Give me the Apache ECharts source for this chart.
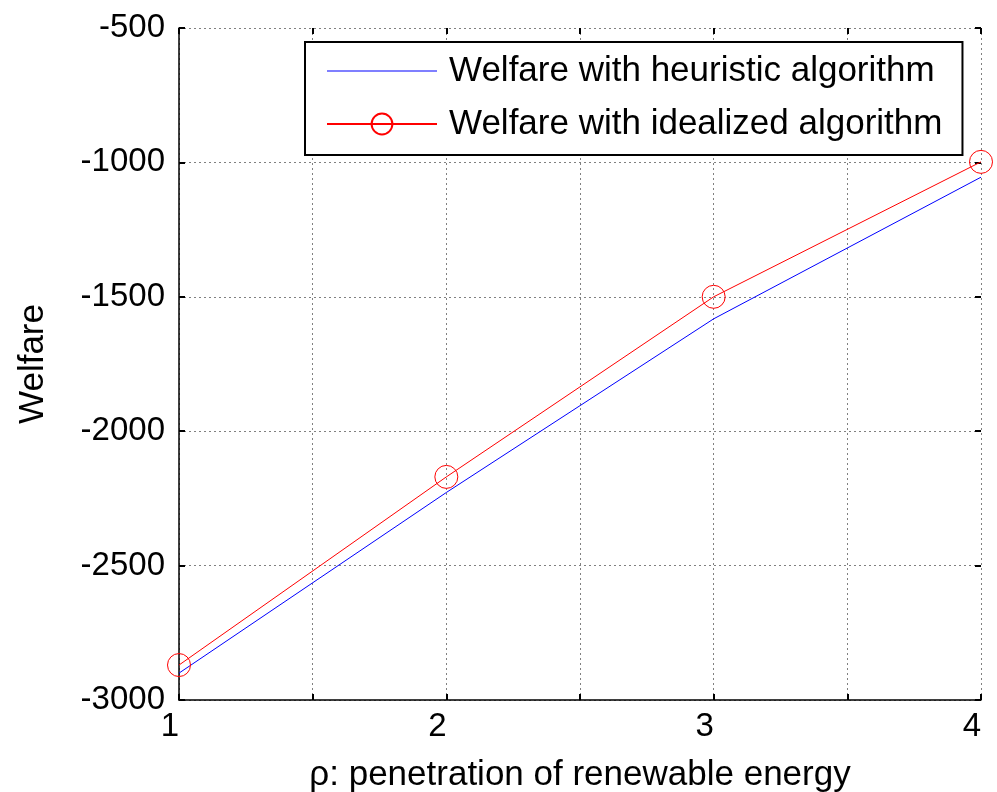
<!DOCTYPE html>
<html><head><meta charset="utf-8">
<script src="https://cdn.jsdelivr.net/npm/echarts@6/dist/echarts.min.js"></script>
<style>html,body{margin:0;padding:0;background:#fff}#c{width:997px;height:792px}</style>
</head><body><div id="c"></div>
<script>
const rho = [1, 2, 3, 4];
const heuristic = [-2900, -2228, -1582, -1055];
const idealized = [-2870, -2170, -1500, -998];
const seriesNames = ['Welfare with heuristic algorithm', 'Welfare with idealized algorithm'];
const xName = 'ρ: penetration of renewable energy';
const yName = 'Welfare';

const F = '"Liberation Sans", Arial, Helvetica, sans-serif';
const chart = echarts.init(document.getElementById('c'), null, {renderer: 'canvas'});
const gridLine = {show: true, lineStyle: {color: '#808080', type: [2, 3], width: 1}};
chart.setOption({
  animation: false,
  backgroundColor: '#fff',
  grid: {left: 179, right: 16, top: 28, bottom: 92, containLabel: false, outerBoundsMode: 'none'},
  xAxis: [{
    type: 'value', min: 1, max: 4, interval: 0.5,
    name: xName, nameLocation: 'middle', nameGap: 58,
    nameTextStyle: {fontFamily: F, fontSize: 35, color: '#000'},
    axisLine: {show: true, lineStyle: {color: '#000', width: 1.5}},
    axisTick: {show: true, inside: true, length: 6, lineStyle: {color: '#000', width: 2}},
    axisLabel: {fontFamily: F, fontSize: 33, color: '#000', margin: 10, padding: [0, 18, 0, 0],
      formatter: v => Number.isInteger(v) ? String(v) : ''},
    splitLine: gridLine
  }, {
    type: 'value', min: 1, max: 4, interval: 0.5, position: 'top',
    axisLine: {show: false}, axisLabel: {show: false}, splitLine: {show: false},
    axisTick: {show: true, inside: true, length: 6, lineStyle: {color: '#000', width: 2}}
  }],
  yAxis: [{
    type: 'value', min: -3000, max: -500, interval: 500,
    name: yName, nameLocation: 'middle', nameGap: 128, nameRotate: 90,
    nameTextStyle: {fontFamily: F, fontSize: 35, color: '#000'},
    axisLine: {show: true, lineStyle: {color: '#000', width: 1.5}},
    axisTick: {show: true, inside: true, length: 6, lineStyle: {color: '#000', width: 2}},
    axisLabel: {fontFamily: F, fontSize: 33, color: '#000', margin: 14, padding: [0, 0, 12, 0],
      formatter: v => String(v)},
    splitLine: gridLine
  }, {
    type: 'value', min: -3000, max: -500, interval: 500, position: 'right',
    axisLine: {show: false}, axisLabel: {show: false}, splitLine: {show: false},
    axisTick: {show: true, inside: true, length: 6, lineStyle: {color: '#000', width: 2}}
  }],
  legend: {
    orient: 'vertical', left: 305, top: 42,
    backgroundColor: '#fff', borderColor: '#000', borderWidth: 2,
    padding: [9, 20, 11, 21], itemGap: 13, itemWidth: 110, itemHeight: 26,
    textStyle: {fontFamily: F, fontSize: 35, color: '#000', lineHeight: 40, padding: [0, 0, 0, 7]},
    data: [
      {name: seriesNames[0], icon: 'path://M0,0H110V1.2H0Z', itemStyle: {color: '#0000ff'}},
      {name: seriesNames[1]}
    ]
  },
  series: [{
    name: seriesNames[0], type: 'line', symbol: 'none',
    lineStyle: {color: '#0000ff', width: 1}, itemStyle: {color: '#0000ff'},
    data: rho.map((x, i) => [x, heuristic[i]])
  }, {
    name: seriesNames[1], type: 'line', symbol: 'circle', symbolSize: 23,
    lineStyle: {color: '#ff0000', width: 1},
    itemStyle: {color: 'rgba(255,255,255,0)', borderColor: '#ff0000', borderWidth: 1},
    data: rho.map((x, i) => [x, idealized[i]])
  }]
});
</script></body></html>
